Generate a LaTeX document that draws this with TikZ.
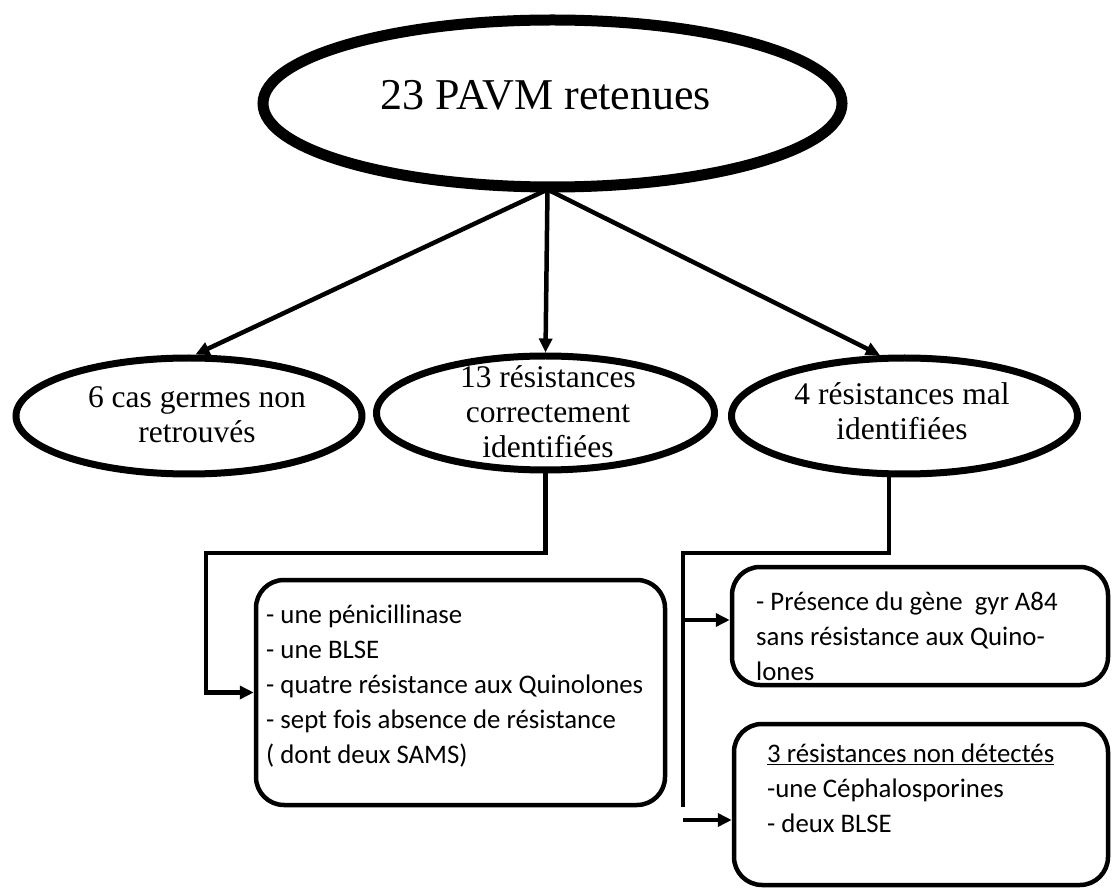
\documentclass[tikz,border=0pt]{standalone}
\usepackage{fontspec}
\setmainfont{Liberation Serif}
\newfontfamily\calfont{Carlito}
\usetikzlibrary{shapes.geometric,arrows.meta,calc}
\begin{document}
\begin{tikzpicture}[x=1pt,y=-1pt,
  bigoval/.style={ellipse, draw, line width=11pt, inner sep=0pt},
  oval/.style={ellipse, draw, line width=7pt, inner sep=0pt},
  ovtext/.style={align=center, inner sep=0pt, font=\fontsize{31.5}{35}\selectfont},
  roundbox/.style={draw, rounded corners=28pt, line width=4.5pt, inner sep=0pt},
  boxtext/.style={anchor=north west, align=left, inner sep=0pt, font=\calfont\fontsize{26.8}{35}\selectfont},
  conn/.style={line width=4.5pt},
  arr/.style={conn, -{Triangle[length=14pt,width=13pt]}}]
\fill[white] (0,0) rectangle (1112,890);
\useasboundingbox (0,0) rectangle (1112,890);

% top ellipse
\node[bigoval, minimum width=579pt, minimum height=167pt] (top) at (552.5,103.5) {};
\node[font=\fontsize{44}{50}\selectfont, inner sep=0pt] (toptext) at (546,95) {23 PAVM retenues};

% second row
\node[oval, minimum width=346pt, minimum height=116pt] (l) at (189,416) {};
\node[ovtext] (lt) at (197,414.5) {6 cas germes non\\retrouvés};
\node[oval, minimum width=338pt, minimum height=114pt] (m) at (545.5,413) {};
\node[ovtext] (mt) at (548,412) {13 résistances\\correctement\\identifiées};
\node[oval, minimum width=346pt, minimum height=116pt] (r) at (904.5,416) {};
\node[ovtext] (rt) at (902,411.5) {4 résistances mal\\identifiées};

% boxes
\node[roundbox, minimum width=409pt, minimum height=225pt] (lb) at (460.5,692.5) {};
\node[boxtext] (lbt) at (266,598.5) {\strut- une pénicillinase\\- une BLSE\\- quatre résistance aux Quinolones\\- sept fois absence de résistance\\( dont deux SAMS)};
\node[roundbox, minimum width=376pt, minimum height=118pt] (b1) at (920,626) {};
\node[boxtext] (b1t) at (756,585.5) {\strut- Présence du gène~~gyr A84\\sans résistance aux Quino-\\lones};
\node[roundbox, minimum width=374pt, minimum height=161pt] (b2) at (921,804.5) {};
\node[boxtext] (b2t) at (767,737.5) {\strut\underline{3 résistances non détectés}\\-une Céphalosporines\\- deux BLSE};

% connectors from top
\coordinate (apex) at ($(top.south)+(-5,-3)$);
\draw[arr] (apex) -- (l.84);
\draw[arr] (apex) -- (m.north);
\draw[arr] (apex) -- (r.112);

% middle branch
\coordinate (jl) at (206,553);
\draw[arr] (m.south) |- (jl) |- (lb.west);

% right branch
\coordinate (jr) at (683,553);
\coordinate (jrend) at (683,807);
\coordinate (ja) at (683,620);
\coordinate (jb) at (683,820);
\draw[conn] (r.-104) |- (jr) -- (jrend);
\draw[arr] (ja) -- (ja -| b1.west);
\draw[arr] (jb) -- (jb -| b2.west);
\end{tikzpicture}
\end{document}
